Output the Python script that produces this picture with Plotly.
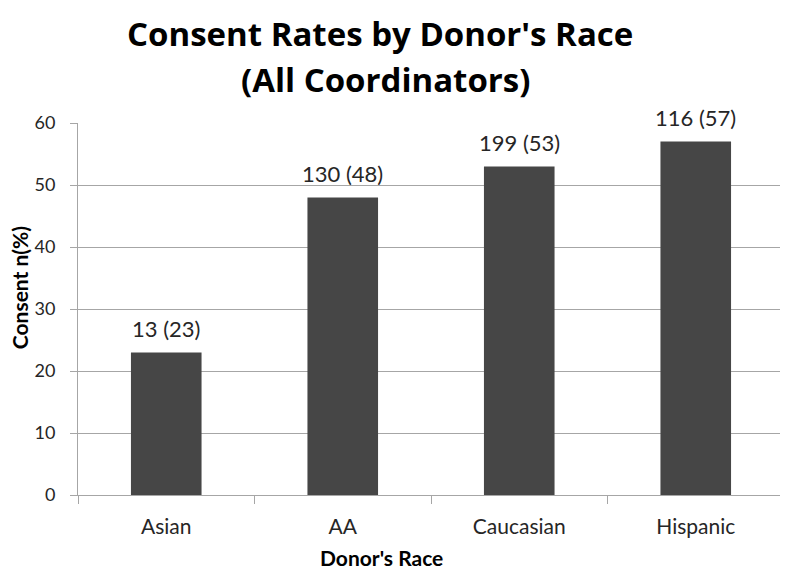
import plotly.graph_objects as go

categories = ["Asian", "AA", "Caucasian", "Hispanic"]
consent_pct = [23, 48, 53, 57]
consent_n = [13, 130, 199, 116]
labels = [f"{n} ({p})" for n, p in zip(consent_n, consent_pct)]

FONT = "Lato"
TITLE_FONT = "Open Sans"
TXT = "#262626"
GRID = "#a6a6a6"

fig = go.Figure(go.Bar(
    x=categories, y=consent_pct,
    marker=dict(color="#464646", line=dict(width=0)),
))

annotations = [
    dict(text="<b>Consent Rates by Donor's Race</b>", xref="paper", yref="paper",
         x=0.428, y=1.0, yshift=90, xanchor="center", yanchor="middle", showarrow=False,
         font=dict(family=TITLE_FONT, size=33, color="black")),
    dict(text="<b>(All Coordinators)</b>", xref="paper", yref="paper",
         x=0.435, y=1.0, yshift=44, xanchor="center", yanchor="middle", showarrow=False,
         font=dict(family=TITLE_FONT, size=33, color="black")),
    dict(text="<b>Donor's Race</b>", xref="paper", yref="paper",
         x=0.43, y=0.0, yshift=-62, xanchor="center", yanchor="middle", showarrow=False,
         font=dict(family=FONT, size=21, color="black")),
    dict(text="<b>Consent n(%)</b>", xref="paper", yref="paper", textangle=-90,
         x=0.0, xshift=-59, y=0.556, xanchor="center", yanchor="middle", showarrow=False,
         font=dict(family=FONT, size=21, color="black")),
]
for cat, val, lab in zip(categories, consent_pct, labels):
    annotations.append(dict(
        text=lab, x=cat, y=val, xref="x", yref="y", yshift=24,
        xanchor="center", yanchor="middle", showarrow=False,
        font=dict(family=FONT, size=22, color=TXT),
    ))

fig.update_layout(
    width=780, height=562,
    margin=dict(l=70, r=4, t=115, b=75, autoexpand=False),
    paper_bgcolor="white", plot_bgcolor="white",
    bargap=0.6, showlegend=False,
    font=dict(family=FONT, color=TXT),
    annotations=annotations,
)

fig.update_yaxes(
    range=[0, 60], dtick=10, showgrid=True, gridcolor=GRID, gridwidth=1,
    showline=True, linecolor=GRID, linewidth=1,
    ticks="outside", ticklen=7, tickcolor=GRID,
    tickfont=dict(family=FONT, size=18, color=TXT), ticklabelstandoff=11,
    zeroline=False, automargin=False,
)
fig.update_xaxes(
    showline=True, linecolor=GRID, linewidth=1,
    ticks="outside", ticklen=8, tickcolor=GRID, tickson="boundaries",
    tickfont=dict(family=FONT, size=21, color=TXT), ticklabelstandoff=13,
    automargin=False,
)

fig.write_html("out.html")
